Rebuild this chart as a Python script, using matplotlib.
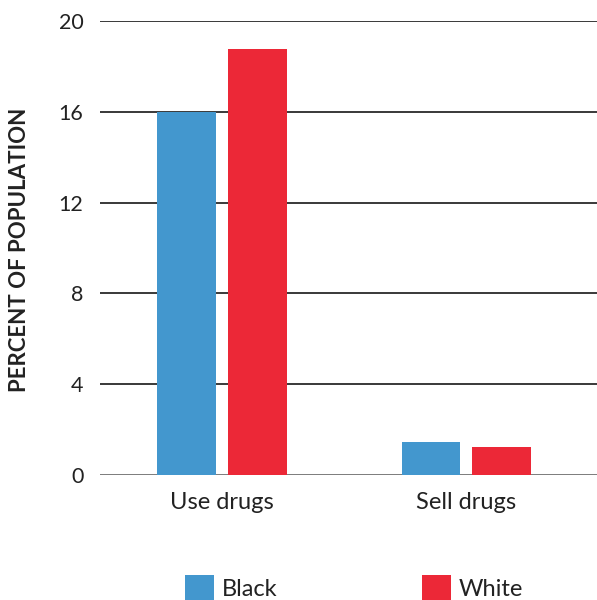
import matplotlib
matplotlib.use("Agg")
import matplotlib.pyplot as plt
import numpy as np

categories = ["Use drugs", "Sell drugs"]
groups = ["Black", "White"]
black_values = [16.0, 1.46]
white_values = [18.75, 1.25]
y_ticks = [0, 4, 8, 12, 16, 20]

BLUE = "#4397CE"
RED = "#EC2837"

plt.rcParams['font.family'] = ['Lato', 'DejaVu Sans']

fig = plt.figure(figsize=(5.97, 6.0), dpi=100)
ax = fig.add_axes([100 / 597, 125 / 600, 497 / 597, 454 / 600])

x = np.arange(len(categories))
width = 0.241
offset = 0.145
ax.bar(x - offset, black_values, width, color=BLUE, label=groups[0], zorder=3)
ax.bar(x + offset, white_values, width, color=RED, label=groups[1], zorder=3)

ax.set_xlim(-0.499, 1.534)
ax.set_ylim(0, 20)
ax.set_yticks(y_ticks)
ax.set_xticks(x)
ax.set_xticklabels(categories, fontsize=17, color="#222222")
ax.tick_params(axis='x', length=0, pad=12)
ax.tick_params(axis='y', length=0, pad=12, labelsize=15.5, labelcolor="#222222")

for t in y_ticks:
    ax.axhline(t, color="#555555" if t == 0 else "#2a2a2a", lw=1.8 if t == 0 else 1.3, zorder=2)

for s in ax.spines.values():
    s.set_visible(False)

fig.text(20 / 597, 1 - 250 / 600, "PERCENT OF POPULATION", rotation=90,
         ha='center', va='center', fontsize=16, fontweight='bold', color="#222222")

leg = fig.legend(loc='center', bbox_to_anchor=(354 / 597, 1 - 588 / 600), ncol=2,
                 frameon=False, fontsize=17, handlelength=1.23, handleheight=1.27,
                 handletextpad=0.34, columnspacing=6.1, borderpad=0)
for txt in leg.get_texts():
    txt.set_color("#222222")

fig.savefig("out.png", dpi=100)
